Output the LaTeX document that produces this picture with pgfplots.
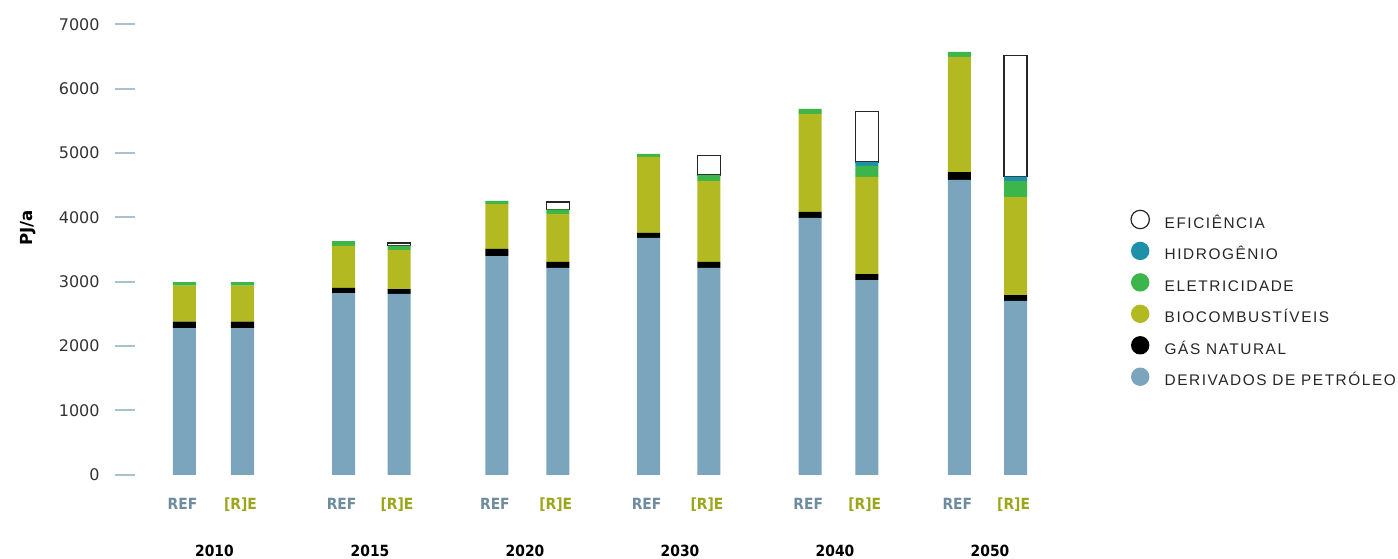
\documentclass[border=0pt]{standalone}
\usepackage{pgfplots}
\usepackage{pgfplotstable}
\pgfplotsset{compat=1.18}
\usepackage{fontspec}
\setmainfont{DejaVu Sans}
\newfontfamily\legfont[LetterSpace=10]{Liberation Sans}
\newfontfamily\catfont{DejaVu Sans Condensed Bold}
\definecolor{petc}{HTML}{7BA5BC}
\definecolor{bioc}{HTML}{B3B920}
\definecolor{elec}{HTML}{3CB54A}
\definecolor{hydc}{HTML}{1E90AA}
\definecolor{refc}{HTML}{6E8C9E}
\definecolor{rec}{HTML}{9CA51B}
\definecolor{tickc}{HTML}{A9C1D0}
\definecolor{numc}{HTML}{333333}

\pgfplotstableread{
x pet gas bio ele hyd
399.0 2810 77 606 67 0
557.8 3214 93 746 73 0
708.9 3214 93 1259 93 0
866.8 3027 93 1508 171 62
1015.6 2701 93 1523 249 66
242.5 2281 98 560 57 0
184.5 2281 98 560 57 0
343.6 2825 78 653 77 0
496.9 3400 109 699 47 0
648.6 3680 78 1181 46 0
810.2 3991 93 1523 78 0
959.3 4581 124 1788 77 0
}\datatable

\begin{document}
\begin{tikzpicture}
\begin{axis}[
  scale only axis,
  width=457.5pt, height=225.25pt,
  xmin=125, xmax=1040, ymin=0, ymax=7000,
  enlargelimits=false,
  ybar stacked, bar width=11.5pt,
  axis x line*=bottom, axis y line*=left,
  x axis line style={draw=none}, y axis line style={draw=none},
  xtick style={draw=none},
  ytick={0,1000,...,7000},
  ytick style={draw=tickc, line width=1pt},
  tick align=center, major tick length=10pt,
  yticklabel style={font=\fontsize{8}{9}\selectfont, text=numc, anchor=east, inner sep=0pt, xshift=-7.5pt},
  /pgf/number format/assume math mode=true,
  /pgf/number format/1000 sep={},
  xtick={182.5,240.5,341.6,397,494.9,555.8,646.6,706.9,808.2,864.8,957.3,1013.6},
  xticklabels={\textcolor{refc}{REF},\textcolor{rec}{[R]E},\textcolor{refc}{REF},\textcolor{rec}{[R]E},\textcolor{refc}{REF},\textcolor{rec}{[R]E},\textcolor{refc}{REF},\textcolor{rec}{[R]E},\textcolor{refc}{REF},\textcolor{rec}{[R]E},\textcolor{refc}{REF},\textcolor{rec}{[R]E}},
  xticklabel style={font=\catfont\fontsize{7.7}{8}\selectfont, anchor=base, inner sep=0pt, yshift=-12.4pt},
  extra x ticks={214.5,370,525,680,835,990},
  extra x tick labels={2010,2015,2020,2030,2040,2050},
  extra x tick style={xticklabel style={yshift=-23.4pt, text=black}},
  every axis y label/.style={at={(rel axis cs:0,0.548)}, xshift=-48.5pt, rotate=90, anchor=center, font=\bfseries\fontsize{8.3}{9}\selectfont},
  ylabel={PJ/a},
  reverse legend,
  legend cell align=left,
  legend image code/.code={\path[#1, line width=0.6pt] (4.75pt,2pt) circle (4.6pt);},
  legend style={at={(axis cs:1130,4126)}, anchor=north west, draw=none, fill=none, inner sep=0pt,
    font=\legfont\fontsize{7.7}{8}\selectfont, text=black!85,
    row sep=4.0pt,
    nodes={inner sep=0pt, text height=7.5pt, text depth=2.75pt},
    /tikz/every odd column/.append style={column sep=7.35pt}},
]
\addplot[fill=petc, draw=none] table[x=x, y=pet] {\datatable};
\addlegendentry{DERIVADOS DE PETRÓLEO}
\addplot[fill=black, draw=none] table[x=x, y=gas] {\datatable};
\addlegendentry{GÁS NATURAL}
\addplot[fill=bioc, draw=none] table[x=x, y=bio] {\datatable};
\addlegendentry{BIOCOMBUSTÍVEIS}
\addplot[fill=elec, draw=none] table[x=x, y=ele] {\datatable};
\addlegendentry{ELETRICIDADE}
\addplot[fill=hydc, draw=none] table[x=x, y=hyd] {\datatable};
\addlegendentry{HIDROGÊNIO}
\addplot[fill=white, draw=black!85, line width=0.7pt] coordinates {(399.0,42) (557.8,114) (708.9,306) (866.8,788) (1015.6,1887)};
\addlegendentry{EFICIÊNCIA}
\coordinate (bl) at (axis cs:0,-1293);
\coordinate (tr) at (axis cs:1398,7378);
\end{axis}
\pgfresetboundingbox
\useasboundingbox (bl) rectangle (tr);
\end{tikzpicture}
\end{document}
